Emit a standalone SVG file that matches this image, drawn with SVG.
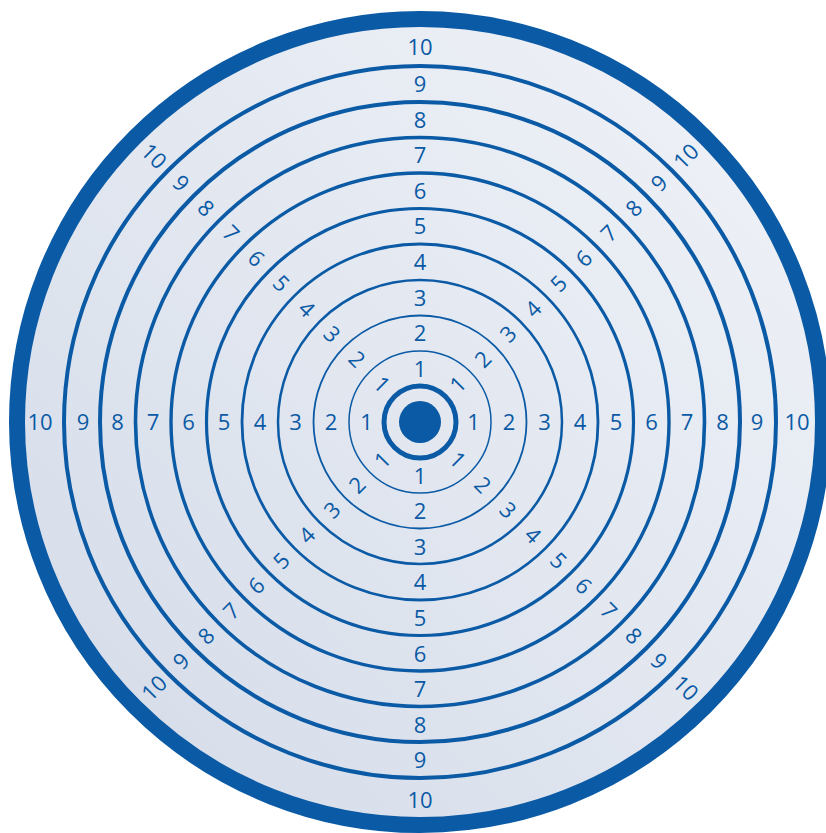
<svg xmlns="http://www.w3.org/2000/svg" width="826" height="833" viewBox="0 0 826 833">
<defs>
<linearGradient id="bg" x1="1" y1="0" x2="0" y2="1">
<stop offset="0" stop-color="#f1f3f8"/>
<stop offset="1" stop-color="#d3dbe8"/>
</linearGradient>
<style>
.r{fill:none;stroke:#0b5aa5}
.t{font-family:"Open Sans","Noto Sans",sans-serif;font-size:22px;fill:#0b5aa5;text-anchor:middle}
</style>
</defs>
<rect width="826" height="833" fill="#ffffff"/>
<g id="target">
<circle cx="420" cy="422" r="403" fill="url(#bg)" stroke="#0b5aa5" stroke-width="16"/>
<circle class="r" cx="420" cy="422" r="356" stroke-width="4"/>
<circle class="r" cx="420" cy="422" r="320" stroke-width="4"/>
<circle class="r" cx="420" cy="422" r="284.5" stroke-width="3.6"/>
<circle class="r" cx="420" cy="422" r="249" stroke-width="3.4"/>
<circle class="r" cx="420" cy="422" r="213.5" stroke-width="3.2"/>
<circle class="r" cx="420" cy="422" r="178" stroke-width="2.8"/>
<circle class="r" cx="420" cy="422" r="142" stroke-width="2.5"/>
<circle class="r" cx="420" cy="422" r="106.5" stroke-width="1.8"/>
<circle class="r" cx="420" cy="422" r="71" stroke-width="1.5"/>
<circle class="r" cx="420" cy="422" r="36" stroke-width="5"/>
<circle cx="420" cy="422" r="21" fill="#0b5aa5"/>
</g>
<g id="labels-top">
<text class="t" x="420" y="376.5">1</text>
<text class="t" x="420" y="341">2</text>
<text class="t" x="420" y="305.5">3</text>
<text class="t" x="420" y="270">4</text>
<text class="t" x="420" y="234">5</text>
<text class="t" x="420" y="198.5">6</text>
<text class="t" x="420" y="163">7</text>
<text class="t" x="420" y="127.5">8</text>
<text class="t" x="420" y="92">9</text>
<text class="t" x="420" y="55">10</text>
</g>
<g id="labels-bottom">
<text class="t" x="420" y="483.5">1</text>
<text class="t" x="420" y="519">2</text>
<text class="t" x="420" y="554.5">3</text>
<text class="t" x="420" y="590">4</text>
<text class="t" x="420" y="626">5</text>
<text class="t" x="420" y="661.5">6</text>
<text class="t" x="420" y="697">7</text>
<text class="t" x="420" y="732.5">8</text>
<text class="t" x="420" y="768">9</text>
<text class="t" x="420" y="808">10</text>
</g>
<g id="labels-left">
<text class="t" x="366.5" y="430">1</text>
<text class="t" x="331" y="430">2</text>
<text class="t" x="295.5" y="430">3</text>
<text class="t" x="260" y="430">4</text>
<text class="t" x="224" y="430">5</text>
<text class="t" x="188.5" y="430">6</text>
<text class="t" x="153" y="430">7</text>
<text class="t" x="117.5" y="430">8</text>
<text class="t" x="83" y="430">9</text>
<text class="t" x="40" y="430">10</text>
</g>
<g id="labels-right">
<text class="t" x="473.5" y="430">1</text>
<text class="t" x="509" y="430">2</text>
<text class="t" x="544.5" y="430">3</text>
<text class="t" x="580" y="430">4</text>
<text class="t" x="616" y="430">5</text>
<text class="t" x="651.5" y="430">6</text>
<text class="t" x="687" y="430">7</text>
<text class="t" x="722.5" y="430">8</text>
<text class="t" x="757" y="430">9</text>
<text class="t" x="797" y="430">10</text>
</g>
<g id="labels-top-left">
<text class="t" y="8" transform="translate(382.2 384.2) rotate(45)">1</text>
<text class="t" y="8" transform="translate(357.1 359.1) rotate(45)">2</text>
<text class="t" y="8" transform="translate(332 334) rotate(45)">3</text>
<text class="t" y="8" transform="translate(306.9 308.9) rotate(45)">4</text>
<text class="t" y="8" transform="translate(281.4 283.4) rotate(45)">5</text>
<text class="t" y="8" transform="translate(256.3 258.3) rotate(45)">6</text>
<text class="t" y="8" transform="translate(231.2 233.2) rotate(45)">7</text>
<text class="t" y="8" transform="translate(206.1 208.1) rotate(45)">8</text>
<text class="t" y="8" transform="translate(181 183) rotate(45)">9</text>
<text class="t" y="8" transform="translate(154.1 156.1) rotate(45)">10</text>
</g>
<g id="labels-top-right">
<text class="t" y="8" transform="translate(457.8 384.2) rotate(-45)">1</text>
<text class="t" y="8" transform="translate(482.9 359.1) rotate(-45)">2</text>
<text class="t" y="8" transform="translate(508 334) rotate(-45)">3</text>
<text class="t" y="8" transform="translate(533.1 308.9) rotate(-45)">4</text>
<text class="t" y="8" transform="translate(558.6 283.4) rotate(-45)">5</text>
<text class="t" y="8" transform="translate(583.7 258.3) rotate(-45)">6</text>
<text class="t" y="8" transform="translate(608.8 233.2) rotate(-45)">7</text>
<text class="t" y="8" transform="translate(633.9 208.1) rotate(-45)">8</text>
<text class="t" y="8" transform="translate(659 183) rotate(-45)">9</text>
<text class="t" y="8" transform="translate(685.9 156.1) rotate(-45)">10</text>
</g>
<g id="labels-bottom-left">
<text class="t" y="8" transform="translate(382.2 459.8) rotate(-45)">1</text>
<text class="t" y="8" transform="translate(357.1 484.9) rotate(-45)">2</text>
<text class="t" y="8" transform="translate(332 510) rotate(-45)">3</text>
<text class="t" y="8" transform="translate(306.9 535.1) rotate(-45)">4</text>
<text class="t" y="8" transform="translate(281.4 560.6) rotate(-45)">5</text>
<text class="t" y="8" transform="translate(256.3 585.7) rotate(-45)">6</text>
<text class="t" y="8" transform="translate(231.2 610.8) rotate(-45)">7</text>
<text class="t" y="8" transform="translate(206.1 635.9) rotate(-45)">8</text>
<text class="t" y="8" transform="translate(181 661) rotate(-45)">9</text>
<text class="t" y="8" transform="translate(154.1 687.9) rotate(-45)">10</text>
</g>
<g id="labels-bottom-right">
<text class="t" y="8" transform="translate(457.8 459.8) rotate(45)">1</text>
<text class="t" y="8" transform="translate(482.9 484.9) rotate(45)">2</text>
<text class="t" y="8" transform="translate(508 510) rotate(45)">3</text>
<text class="t" y="8" transform="translate(533.1 535.1) rotate(45)">4</text>
<text class="t" y="8" transform="translate(558.6 560.6) rotate(45)">5</text>
<text class="t" y="8" transform="translate(583.7 585.7) rotate(45)">6</text>
<text class="t" y="8" transform="translate(608.8 610.8) rotate(45)">7</text>
<text class="t" y="8" transform="translate(633.9 635.9) rotate(45)">8</text>
<text class="t" y="8" transform="translate(659 661) rotate(45)">9</text>
<text class="t" y="8" transform="translate(685.9 687.9) rotate(45)">10</text>
</g>
</svg>
